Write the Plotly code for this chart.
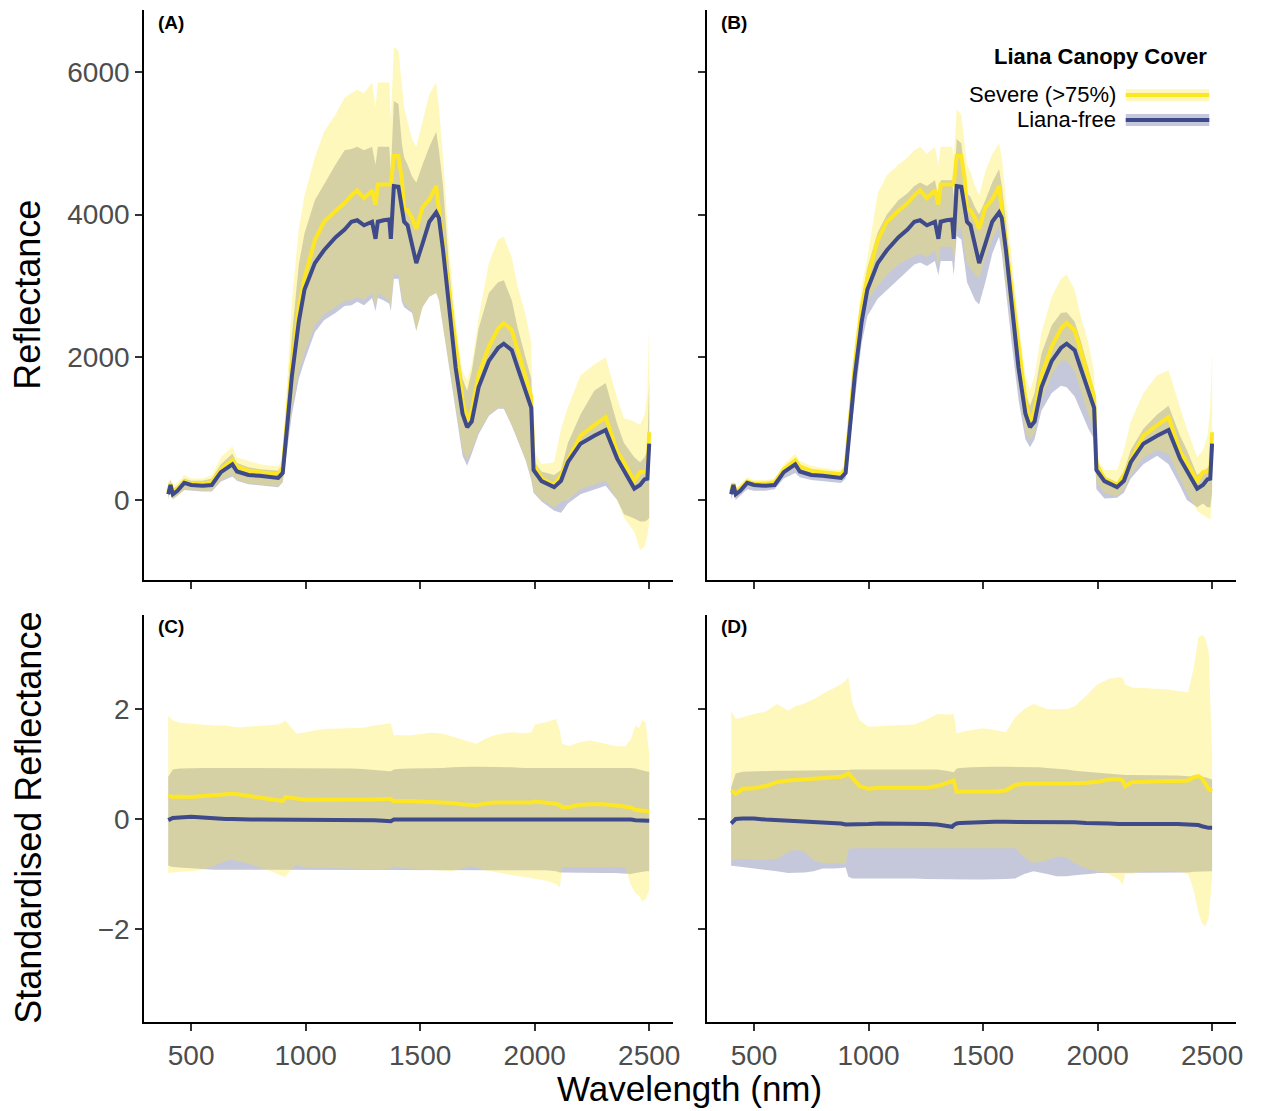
import plotly.graph_objects as go

# ---------------- data ----------------
WL_TOP = [400, 410, 420, 440, 470, 500, 550, 590, 630, 680,
          700, 750, 800, 850, 880, 900, 940, 970, 995, 1040,
          1080, 1130, 1170, 1200, 1225, 1255, 1290, 1305, 1315, 1340,
          1365, 1372, 1385, 1405, 1420, 1430, 1445, 1465, 1483, 1510,
          1540, 1570, 1582, 1600, 1625, 1655, 1685, 1705, 1725, 1755,
          1800, 1840, 1865, 1900, 1925, 1960, 1985, 1995, 2030, 2085,
          2115, 2145, 2200, 2260, 2310, 2360, 2390, 2435, 2460, 2480,
          2492, 2500]

MEAN_FREE = [80, 210, 80, 130, 240, 210, 200, 210, 390, 500,
             400, 350, 340, 320, 310, 380, 1740, 2500, 2950, 3320,
             3500, 3680, 3790, 3900, 3920, 3850, 3900, 3660, 3900, 3920,
             3930, 3660, 4400, 4390, 4120, 3900, 3850, 3590, 3320, 3590,
             3900, 4030, 3950, 3500, 2790, 1850, 1210, 1020, 1100, 1580,
             1950, 2130, 2190, 2100, 1860, 1520, 1290, 420, 265, 180,
             270, 530, 790, 900, 980, 580, 420, 160, 210, 290,
             300, 790]

MEAN_SEVERE = [120, 230, 110, 160, 260, 230, 230, 250, 430, 560,
               470, 410, 390, 370, 360, 450, 1900, 2700, 3110, 3640,
               3900, 4050, 4160, 4270, 4340, 4230, 4340, 4140, 4420, 4420,
               4420, 4420, 4820, 4820, 4500, 4060, 4060, 3950, 3800, 4100,
               4210, 4400, 4060, 3600, 2900, 2100, 1400, 1100, 1250, 1750,
               2150, 2400, 2480, 2380, 2100, 1700, 1450, 500, 300, 210,
               350, 560, 900, 1050, 1160, 680, 530, 265, 390, 400,
               400, 950]

A_SEVERE_HI = [250, 300, 200, 250, 350, 300, 300, 350, 600, 750,
               600, 550, 500, 480, 470, 600, 2800, 3800, 4270, 4800,
               5160, 5400, 5640, 5700, 5750, 5700, 5850, 5500, 5850, 5850,
               5850, 5300, 6350, 6300, 5800, 5500, 5300, 5060, 4950, 5300,
               5690, 5850, 5500, 4800, 3600, 2500, 1800, 1680, 1900, 2550,
               3320, 3650, 3690, 3400, 3000, 2600, 2200, 700, 500, 530,
               1000, 1300, 1750, 1900, 2000, 1430, 1150, 1100, 1050, 1200,
               1500, 2480]

A_FREE_HI = [200, 280, 150, 200, 300, 270, 270, 300, 500, 650,
             520, 460, 430, 420, 410, 500, 2300, 3300, 3740, 4200,
             4430, 4700, 4900, 4920, 4950, 4900, 4950, 4700, 4950, 4950,
             4950, 4600, 5590, 5550, 5000, 4800, 4700, 4530, 4450, 4700,
             4950, 5160, 4900, 4400, 3300, 2300, 1700, 1530, 1800, 2400,
             2900, 3050, 3080, 2800, 2420, 2000, 1700, 550, 400, 350,
             420, 800, 1200, 1530, 1640, 1070, 800, 600, 530, 600,
             700, 1700]

A_SEVERE_LO = [0, 130, 0, 60, 150, 140, 130, 130, 280, 350,
               280, 230, 220, 200, 190, 260, 1300, 1800, 2060, 2450,
               2600, 2700, 2790, 2800, 2850, 2800, 2900, 2700, 2900, 2850,
               2800, 2700, 3160, 3160, 2840, 2750, 2700, 2650, 2370, 2700,
               2850, 2900, 2800, 2400, 1900, 1300, 700, 560, 700, 950,
               1200, 1290, 1290, 1050, 850, 575, 300, 120, 0, -100,
               -20, 0, 150, 220, 270, 0, -250, -450, -700, -650,
               -500, -300]

A_FREE_LO = [20, 130, 10, 60, 140, 130, 120, 120, 260, 330,
             270, 220, 210, 190, 180, 250, 1200, 1700, 1950, 2350,
             2520, 2620, 2720, 2730, 2780, 2730, 2830, 2650, 2830, 2800,
             2750, 2650, 3100, 3100, 2780, 2700, 2660, 2620, 2370, 2700,
             2850, 2900, 2800, 2400, 1900, 1250, 620, 480, 650, 920,
             1180, 1280, 1280, 1040, 840, 560, 280, 100, -20, -150,
             -180, -50, 80, 150, 200, 0, -200, -260, -300, -300,
             -280, -250]

B_SEVERE_HI = [200, 280, 170, 220, 320, 280, 280, 300, 500, 650,
               550, 480, 450, 430, 420, 500, 2200, 3000, 3400, 4300,
               4550, 4700, 4800, 4900, 4950, 4850, 4950, 4700, 4950, 4950,
               4950, 4800, 5480, 5400, 5000, 4700, 4600, 4400, 4270, 4600,
               4850, 5000, 4800, 4200, 3400, 2500, 1750, 1530, 1750, 2350,
               2850, 3100, 3160, 2950, 2600, 2200, 1800, 600, 420, 420,
               700, 1100, 1500, 1750, 1820, 1300, 1000, 600, 700, 900,
               1300, 2060]

B_FREE_HI = [150, 240, 120, 170, 280, 250, 250, 260, 450, 560,
             460, 400, 380, 360, 350, 430, 1950, 2800, 3250, 3750,
             4000, 4200, 4300, 4400, 4450, 4400, 4480, 4250, 4480, 4480,
             4480, 4250, 5060, 5000, 4600, 4300, 4250, 4100, 4000, 4200,
             4450, 4640, 4400, 3900, 3100, 2200, 1500, 1320, 1500, 2050,
             2450, 2620, 2630, 2500, 2250, 1850, 1550, 480, 330, 250,
             400, 700, 1000, 1200, 1320, 900, 700, 350, 400, 450,
             500, 1000]

B_SEVERE_LO = [40, 170, 40, 100, 200, 180, 180, 200, 350, 450,
               380, 330, 310, 300, 290, 340, 1600, 2400, 2800, 3000,
               3150, 3300, 3370, 3420, 3450, 3400, 3500, 3300, 3550, 3550,
               3550, 3300, 3800, 3800, 3500, 3300, 3250, 3150, 3110, 3400,
               3650, 3850, 3600, 3100, 2400, 1600, 950, 840, 950, 1400,
               1750, 1950, 1950, 1800, 1550, 1200, 1000, 250, 100, 50,
               150, 350, 600, 700, 650, 300, 100, -150, -200, -250,
               -280, 0]

B_FREE_LO = [0, 130, 0, 60, 150, 130, 130, 150, 300, 380,
             320, 280, 260, 250, 240, 300, 1400, 2200, 2580, 2820,
             2950, 3100, 3210, 3300, 3330, 3280, 3350, 3150, 3350, 3350,
             3350, 3150, 3700, 3650, 3300, 3050, 2950, 2800, 2740, 3050,
             3450, 3690, 3450, 2900, 2200, 1400, 850, 740, 850, 1250,
             1500, 1600, 1580, 1450, 1250, 1000, 850, 150, 20, 30,
             100, 300, 500, 620, 500, 200, 0, -100, -50, -100,
             -100, 100]

WL_STD = [400, 420, 450, 500, 550, 600, 650, 680, 720, 760,
          800, 850, 880, 900, 912, 930, 960, 1000, 1050, 1100,
          1150, 1200, 1250, 1300, 1340, 1365, 1372, 1385, 1400, 1450,
          1500, 1550, 1600, 1640, 1680, 1720, 1745, 1780, 1820, 1866,
          1900, 1950, 1987, 2000, 2050, 2093, 2110, 2120, 2150, 2200,
          2243, 2300, 2350, 2395, 2420, 2440, 2456, 2470, 2485, 2500]

C_MEAN_FREE = [-0.02, 0.02, 0.03, 0.04, 0.03, 0.01, 0.0, 0.0, -0.01, -0.01,
               -0.01, -0.01, -0.02, -0.02, -0.02, -0.02, -0.02, -0.02, -0.02, -0.02,
               -0.02, -0.02, -0.02, -0.02, -0.03, -0.04, -0.04, -0.01, -0.01, -0.01,
               -0.01, 0.0, 0.0, 0.0, 0.0, 0.0, 0.0, 0.0, 0.0, 0.0,
               0.0, 0.0, -0.01, -0.01, -0.01, -0.01, -0.01, -0.01, -0.01, -0.01,
               -0.01, -0.01, -0.01, -0.01, -0.01, -0.02, -0.02, -0.02, -0.03, -0.03]

C_MEAN_SEVERE = [0.43, 0.40, 0.41, 0.40, 0.42, 0.44, 0.46, 0.46, 0.44, 0.42,
                 0.39, 0.36, 0.34, 0.33, 0.40, 0.39, 0.36, 0.35, 0.35, 0.355,
                 0.355, 0.355, 0.355, 0.355, 0.36, 0.37, 0.37, 0.32, 0.33, 0.33,
                 0.32, 0.31, 0.31, 0.29, 0.27, 0.26, 0.25, 0.28, 0.30, 0.30,
                 0.30, 0.30, 0.30, 0.32, 0.30, 0.28, 0.25, 0.21, 0.22, 0.26,
                 0.27, 0.27, 0.25, 0.22, 0.21, 0.17, 0.15, 0.15, 0.15, 0.14]

C_SEVERE_HI = [1.88, 1.79, 1.75, 1.73, 1.72, 1.70, 1.70, 1.68, 1.67, 1.68,
               1.69, 1.70, 1.72, 1.76, 1.79, 1.70, 1.55, 1.58, 1.62, 1.64,
               1.65, 1.66, 1.66, 1.70, 1.72, 1.74, 1.74, 1.52, 1.53, 1.52,
               1.55, 1.57, 1.55, 1.50, 1.45, 1.40, 1.37, 1.45, 1.52, 1.56,
               1.58, 1.56, 1.58, 1.72, 1.76, 1.82, 1.60, 1.37, 1.33, 1.40,
               1.43, 1.38, 1.33, 1.32, 1.45, 1.70, 1.65, 1.80, 1.75, 1.20]

C_FREE_HI = [0.77, 0.90, 0.92, 0.93, 0.93, 0.93, 0.93, 0.93, 0.93, 0.93,
             0.93, 0.93, 0.93, 0.93, 0.92, 0.92, 0.92, 0.92, 0.92, 0.92,
             0.92, 0.92, 0.91, 0.90, 0.88, 0.87, 0.87, 0.90, 0.91, 0.92,
             0.92, 0.93, 0.93, 0.94, 0.95, 0.95, 0.95, 0.95, 0.94, 0.94,
             0.94, 0.93, 0.93, 0.93, 0.94, 0.94, 0.94, 0.94, 0.94, 0.94,
             0.94, 0.94, 0.94, 0.93, 0.93, 0.92, 0.90, 0.88, 0.87, 0.86]

C_SEVERE_LO = [-0.98, -0.97, -0.96, -0.95, -0.92, -0.85, -0.76, -0.74, -0.78, -0.82,
               -0.88, -0.95, -1.0, -1.04, -1.05, -0.95, -0.83, -0.88, -0.89, -0.90,
               -0.90, -0.90, -0.91, -0.92, -0.92, -0.90, -0.90, -0.86, -0.88, -0.90,
               -0.92, -0.93, -0.94, -0.95, -0.90, -0.86, -0.88, -0.93, -0.96, -1.0,
               -1.02, -1.05, -1.07, -1.08, -1.12, -1.18, -1.25, -0.87, -0.86, -0.87,
               -0.86, -0.87, -0.87, -0.88, -1.20, -1.35, -1.40, -1.50, -1.45, -1.30]

C_FREE_LO = [-0.85, -0.87, -0.88, -0.90, -0.91, -0.92, -0.92, -0.92, -0.92, -0.92,
             -0.92, -0.93, -0.93, -0.93, -0.93, -0.93, -0.93, -0.93, -0.93, -0.93,
             -0.93, -0.93, -0.93, -0.93, -0.93, -0.93, -0.93, -0.93, -0.93, -0.93,
             -0.93, -0.93, -0.93, -0.93, -0.93, -0.93, -0.93, -0.93, -0.93, -0.93,
             -0.93, -0.93, -0.93, -0.93, -0.93, -0.95, -0.97, -0.98, -0.98, -0.98,
             -0.98, -0.98, -0.98, -0.99, -1.0, -0.98, -0.96, -0.96, -0.95, -0.95]

D_MEAN_FREE = [-0.08, 0.0, 0.01, 0.01, -0.01, -0.02, -0.03, -0.04, -0.05, -0.05,
               -0.06, -0.07, -0.08, -0.10, -0.10, -0.10, -0.10, -0.09, -0.08, -0.08,
               -0.08, -0.09, -0.09, -0.10, -0.13, -0.14, -0.11, -0.08, -0.07, -0.06,
               -0.05, -0.05, -0.05, -0.05, -0.05, -0.06, -0.06, -0.06, -0.06, -0.06,
               -0.06, -0.07, -0.07, -0.07, -0.08, -0.09, -0.09, -0.08, -0.08, -0.09,
               -0.09, -0.09, -0.09, -0.10, -0.10, -0.11, -0.13, -0.15, -0.16, -0.16]

D_MEAN_SEVERE = [0.52, 0.46, 0.55, 0.56, 0.60, 0.67, 0.70, 0.71, 0.72, 0.73,
                 0.75, 0.77, 0.77, 0.80, 0.83, 0.75, 0.60, 0.55, 0.57, 0.57,
                 0.57, 0.57, 0.57, 0.60, 0.66, 0.70, 0.70, 0.49, 0.50, 0.50,
                 0.50, 0.50, 0.52, 0.62, 0.64, 0.64, 0.64, 0.64, 0.65, 0.65,
                 0.65, 0.66, 0.67, 0.68, 0.72, 0.73, 0.70, 0.60, 0.67, 0.68,
                 0.68, 0.69, 0.69, 0.70, 0.76, 0.78, 0.74, 0.65, 0.55, 0.51]

D_SEVERE_HI = [1.97, 1.82, 1.85, 1.91, 1.95, 2.09, 1.97, 2.05, 2.10, 2.18,
               2.28, 2.39, 2.45, 2.52, 2.58, 2.10, 1.80, 1.68, 1.69, 1.70,
               1.71, 1.72, 1.80, 1.91, 1.90, 1.91, 1.91, 1.55, 1.58, 1.62,
               1.65, 1.62, 1.58, 1.85, 2.00, 2.09, 2.05, 2.00, 2.00, 2.00,
               2.05, 2.24, 2.40, 2.45, 2.55, 2.58, 2.57, 2.45, 2.39, 2.38,
               2.37, 2.36, 2.33, 2.30, 2.75, 3.30, 3.35, 3.30, 3.05, 1.20]

D_FREE_HI = [0.58, 0.83, 0.86, 0.87, 0.87, 0.88, 0.88, 0.88, 0.88, 0.88,
             0.89, 0.89, 0.89, 0.89, 0.89, 0.90, 0.90, 0.90, 0.90, 0.90,
             0.90, 0.90, 0.90, 0.90, 0.88, 0.85, 0.85, 0.92, 0.93, 0.94,
             0.95, 0.95, 0.95, 0.95, 0.95, 0.95, 0.94, 0.93, 0.92, 0.90,
             0.88, 0.86, 0.85, 0.85, 0.83, 0.81, 0.80, 0.80, 0.80, 0.80,
             0.79, 0.79, 0.79, 0.78, 0.78, 0.77, 0.77, 0.76, 0.74, 0.72]

D_SEVERE_LO = [-0.74, -0.73, -0.72, -0.74, -0.75, -0.72, -0.60, -0.56, -0.60, -0.75,
               -0.80, -0.80, -0.81, -0.82, -0.55, -0.53, -0.53, -0.53, -0.53, -0.53,
               -0.53, -0.53, -0.53, -0.53, -0.53, -0.53, -0.53, -0.53, -0.53, -0.53,
               -0.53, -0.53, -0.53, -0.53, -0.70, -0.80, -0.78, -0.75, -0.68, -0.70,
               -0.80, -0.90, -0.95, -0.95, -1.00, -1.10, -1.20, -1.00, -1.00, -0.95,
               -0.95, -0.95, -0.95, -1.00, -1.30, -1.70, -1.90, -1.95, -1.80, -1.10]

D_FREE_LO = [-0.85, -0.86, -0.87, -0.90, -0.92, -0.95, -0.98, -0.98, -0.97, -0.95,
             -0.90, -0.90, -0.89, -0.88, -1.05, -1.08, -1.08, -1.08, -1.08, -1.08,
             -1.08, -1.08, -1.09, -1.10, -1.10, -1.10, -1.10, -1.10, -1.10, -1.10,
             -1.10, -1.10, -1.09, -1.08, -1.00, -0.95, -0.97, -1.00, -1.04, -1.04,
             -1.02, -1.00, -0.99, -0.98, -0.98, -0.97, -0.97, -0.97, -0.97, -0.97,
             -0.97, -0.97, -0.97, -0.97, -0.96, -0.96, -0.95, -0.95, -0.95, -0.95]

X_TICKS = [500, 1000, 1500, 2000, 2500]
TOP_Y_TICKS = [0, 2000, 4000, 6000]
STD_Y_TICKS = [-2, 0, 2]
STD_Y_LABELS = ["\u22122", "0", "2"]
PANEL_LABELS = ["(A)", "(B)", "(C)", "(D)"]
LEGEND_TITLE = "Liana Canopy Cover"
LEGEND_LABELS = ["Severe (>75%)", "Liana-free"]

# ---------------- styling ----------------
FW, FH = 1266, 1111
FONT = "Liberation Sans, Arial, Helvetica, sans-serif"
BLUE = "rgb(62,74,137)"
BLUE_FILL = "rgba(62,74,137,0.3)"
YEL = "rgb(253,231,37)"
YEL_FILL = "rgba(253,231,37,0.3)"
LW = 4


def fx(p):
    return p / FW


def fy(p):
    return 1 - p / FH


fig = go.Figure()

panels = [
    ("x", "y", WL_TOP, A_FREE_HI, A_FREE_LO, A_SEVERE_HI, A_SEVERE_LO, MEAN_FREE, MEAN_SEVERE),
    ("x2", "y2", WL_TOP, B_FREE_HI, B_FREE_LO, B_SEVERE_HI, B_SEVERE_LO, MEAN_FREE, MEAN_SEVERE),
    ("x3", "y3", WL_STD, C_FREE_HI, C_FREE_LO, C_SEVERE_HI, C_SEVERE_LO, C_MEAN_FREE, C_MEAN_SEVERE),
    ("x4", "y4", WL_STD, D_FREE_HI, D_FREE_LO, D_SEVERE_HI, D_SEVERE_LO, D_MEAN_FREE, D_MEAN_SEVERE),
]

for xa, ya, wl, fhi, flo, shi, slo, fm, sm in panels:
    fig.add_trace(go.Scatter(x=wl + wl[::-1], y=fhi + flo[::-1], fill="toself",
                             fillcolor=BLUE_FILL, mode="lines",
                             line=dict(width=0, color="rgba(0,0,0,0)"),
                             xaxis=xa, yaxis=ya, hoverinfo="skip", showlegend=False))
    fig.add_trace(go.Scatter(x=wl + wl[::-1], y=shi + slo[::-1], fill="toself",
                             fillcolor=YEL_FILL, mode="lines",
                             line=dict(width=0, color="rgba(0,0,0,0)"),
                             xaxis=xa, yaxis=ya, hoverinfo="skip", showlegend=False))
    fig.add_trace(go.Scatter(x=wl, y=sm, mode="lines", line=dict(color=YEL, width=LW),
                             xaxis=xa, yaxis=ya, showlegend=False))
    fig.add_trace(go.Scatter(x=wl, y=fm, mode="lines", line=dict(color=BLUE, width=LW),
                             xaxis=xa, yaxis=ya, showlegend=False))

axis_common = dict(showgrid=False, zeroline=False, showline=True, linecolor="black",
                   linewidth=2, ticks="outside", ticklen=7, tickwidth=1.5,
                   tickcolor="#333333",
                   tickfont=dict(family=FONT, size=28, color="#4D4D4D"))

xdom_l = [fx(145), fx(677)]
xdom_r = [fx(711), fx(1243)]
ydom_t = [fy(580), fy(10)]
ydom_b = [fy(1022), fy(615)]
xr = [295, 2605]

fig.update_layout(
    width=FW, height=FH, margin=dict(l=0, r=0, t=0, b=0),
    paper_bgcolor="white", plot_bgcolor="white",
    xaxis=dict(domain=xdom_l, anchor="y", range=xr, tickvals=X_TICKS, showticklabels=False, **axis_common),
    yaxis=dict(domain=ydom_t, anchor="x", range=[-1121, 6867], tickvals=TOP_Y_TICKS, **axis_common),
    xaxis2=dict(domain=xdom_r, anchor="y2", range=xr, tickvals=X_TICKS, showticklabels=False, **axis_common),
    yaxis2=dict(domain=ydom_t, anchor="x2", range=[-1121, 6867], tickvals=TOP_Y_TICKS, showticklabels=False, **axis_common),
    xaxis3=dict(domain=xdom_l, anchor="y3", range=xr, tickvals=X_TICKS, **axis_common),
    yaxis3=dict(domain=ydom_b, anchor="x3", range=[-3.69, 3.71], tickvals=STD_Y_TICKS, ticktext=STD_Y_LABELS, **axis_common),
    xaxis4=dict(domain=xdom_r, anchor="y4", range=xr, tickvals=X_TICKS, **axis_common),
    yaxis4=dict(domain=ydom_b, anchor="x4", range=[-3.69, 3.71], tickvals=STD_Y_TICKS, ticktext=STD_Y_LABELS, showticklabels=False, **axis_common),
)

ann = []
# axis titles
ann.append(dict(text="Reflectance", x=fx(28), y=fy(295), textangle=-90,
                font=dict(family=FONT, size=36, color="black")))
ann.append(dict(text="Standardised Reflectance", x=fx(28), y=fy(818), textangle=-90,
                font=dict(family=FONT, size=36, color="black")))
ann.append(dict(text="Wavelength (nm)", x=fx(693), y=fy(1088),
                font=dict(family=FONT, size=35, color="black")))
# panel labels
for lab, (px, py) in zip(PANEL_LABELS, [(157, 22), (723, 22), (157, 627), (723, 627)]):
    ann.append(dict(text="<b>%s</b>" % lab, x=fx(px), y=fy(py), xanchor="left",
                    font=dict(family=FONT, size=19, color="black")))
# legend
ann.append(dict(text="<b>%s</b>" % LEGEND_TITLE, x=fx(1216), y=fy(57), xanchor="right",
                font=dict(family=FONT, size=22, color="black")))
for lab, py in zip(LEGEND_LABELS, [95, 120]):
    ann.append(dict(text=lab, x=fx(1124), y=fy(py), xanchor="right",
                    font=dict(family=FONT, size=22, color="black")))
for a in ann:
    a.update(xref="paper", yref="paper", showarrow=False)
    a.setdefault("xanchor", "center")
    a["yanchor"] = "middle"
fig.update_layout(annotations=ann)

shapes = []
for (fill, col), py in zip([(YEL_FILL, YEL), (BLUE_FILL, BLUE)], [95, 120]):
    shapes.append(dict(type="rect", xref="paper", yref="paper", x0=fx(1132), x1=fx(1216),
                       y0=fy(py + 6), y1=fy(py - 6), fillcolor=fill, line=dict(width=0)))
    shapes.append(dict(type="line", xref="paper", yref="paper", x0=fx(1132), x1=fx(1216),
                       y0=fy(py), y1=fy(py), line=dict(color=col, width=LW)))
fig.update_layout(shapes=shapes)

# remove the page's default 8px body margin so the figure fills the window exactly
fig.write_html("out.html", config={"displayModeBar": False},
               post_script="document.body.style.margin='0';")
